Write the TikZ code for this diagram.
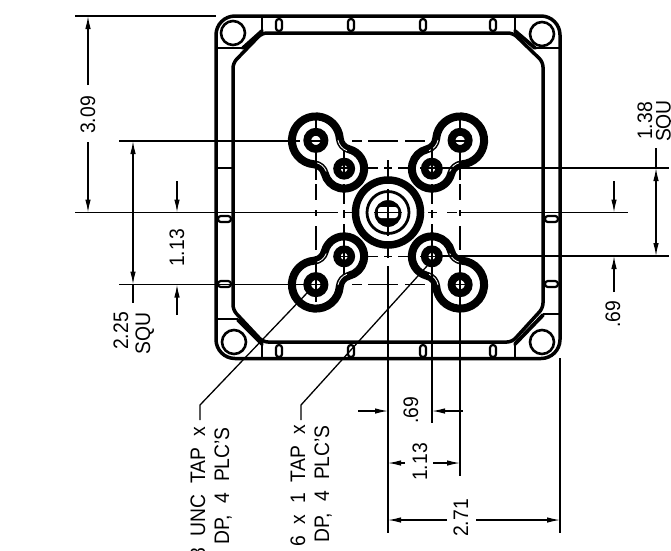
\documentclass[tikz,border=0pt]{standalone}
\usepackage{fontspec}
\setmainfont[FakeStretch=0.92]{Liberation Sans}
\usetikzlibrary{arrows.meta}
\newcommand{\gapw}{\hspace{11pt}}
\tikzset{
  body/.style={line width=3.5pt,line join=round},
  chamfer/.style={line width=3.8pt,line cap=round},
  thinbar/.style={line width=2.2pt},
  slotring/.style={line width=2.2pt,rounded corners=2.8pt},
  dimline/.style={line width=1.2pt},
  extline/.style={line width=1.3pt},
  centerl/.style={line width=1.4pt},
  arrowtip/.style={line width=1.2pt,-{Latex[length=13pt,width=5.5pt]}},
  both/.style={line width=1.2pt,{Latex[length=13pt,width=5.5pt]}-{Latex[length=13pt,width=5.5pt]}},
  dimtext/.style={rotate=90,inner sep=0pt,anchor=base,font=\fontsize{21}{22}\selectfont},
  notetext/.style={rotate=90,inner sep=0pt,anchor=base east,font=\fontsize{21}{22}\selectfont}
}
\begin{document}
\begin{tikzpicture}[x=1pt,y=1pt]
\useasboundingbox (0,0) rectangle (671,-550);
\clip (0,0) rectangle (671,-550);

% housing
\draw[body,rounded corners=19pt] (216,-16) rectangle (560,-358.5);
\draw[body,rounded corners=5pt] (262,-33) -- (513,-33) -- (543,-62) -- (543,-308) -- (512,-342) -- (263,-342) -- (233,-310) -- (233,-63) -- cycle;
\draw[chamfer] (262,-31) -- (243,-48);
\draw[chamfer] (515,-31) -- (535,-48);
\draw[chamfer] (262,-344) -- (238,-320);
\draw[chamfer] (515,-344) -- (543,-315);
\draw[thinbar] (216,-48) -- (243,-48);
\draw[thinbar] (535,-48) -- (560,-48);
\draw[thinbar] (216,-319) -- (238,-319);
\draw[thinbar] (543,-314) -- (560,-314);
\draw[thinbar] (216,-168) -- (233,-168);
\draw[thinbar] (262,-16) -- (262,-33);
\draw[thinbar] (515,-16) -- (515,-33);
\draw[thinbar] (262,-342) -- (262,-358);
\draw[thinbar] (515,-342) -- (515,-358);
\foreach \cx/\cy in {233/33,542/34,234/342,542/342}
  \draw[line width=2.6pt] (\cx,-\cy) circle (12pt);
\foreach \sx in {279,351,423,493} {
  \draw[slotring] (\sx-3,-19) rectangle (\sx+3,-31);
  \draw[slotring] (\sx-3,-345) rectangle (\sx+3,-357);
}
\foreach \sy in {219,284} {
  \draw[slotring] (218,-\sy+3) rectangle (231,-\sy-3);
  \draw[slotring] (545,-\sy+3) rectangle (558,-\sy-3);
}

% bolt pattern
\foreach \a in {45,135,225,315} {
\begin{scope}[shift={(388,-212.5)},rotate=\a]
  \draw[line width=8pt,line join=round]
    (102,0) ++(130.54:24pt) arc (130.54:-130.54:24pt)
    arc (49.46:121.25:12pt)
    arc (-58.75:-301.25:20pt)
    arc (238.75:310.54:12pt) -- cycle;
  \draw[white,line width=0.8pt] (78.6,-27.36) ++(55:14pt) arc (55:115:14pt);
  \draw[white,line width=0.8pt] (78.6,27.36) ++(245:14pt) arc (245:305:14pt);
  \draw[line width=7.8pt] (102,0) circle (8.6pt);
  \draw[line width=7.4pt] (62,0) circle (7.2pt);
\end{scope}
}
\draw[line width=7.5pt] (388,-212.5) circle (32.5pt);
\draw[line width=2.8pt] (388,-212.5) circle (21pt);
\fill (388,-213.5) circle (13.4pt);
\fill[white,rounded corners=3pt] (378,-207) rectangle (398,-218);

% centre lines
\draw[centerl] (119,-141) -- (300,-141);
\draw[centerl] (352,-141) -- (362,-141) (368,-141) -- (398,-141) (405,-141) -- (425,-141) (450,-141) -- (472,-141) (304,-141) -- (328,-141);
\draw[centerl] (119,-284.5) -- (328,-284.5);
\draw[centerl] (352,-284.5) -- (362,-284.5) (368,-284.5) -- (398,-284.5) (405,-284.5) -- (425,-284.5) (450,-284.5) -- (472,-284.5);
\draw[centerl] (75,-212.5) -- (338,-212.5);
\draw[centerl] (344,-212.5) -- (352,-212.5) (374,-212.5) -- (402,-212.5) (428,-212.5) -- (437,-212.5) (447,-212.5) -- (457,-212.5);
\draw[centerl] (460,-212.5) -- (628,-212.5);
\draw[centerl] (75,-16) -- (216,-16);
\draw[centerl] (334,-168) -- (354,-168) (366,-168) -- (378,-168) (384,-168) -- (392,-168) (398,-168) -- (410,-168) (420,-168) -- (440,-168);
\draw[centerl] (334,-256.5) -- (354,-256.5) (366,-256.5) -- (378,-256.5) (384,-256.5) -- (392,-256.5) (398,-256.5) -- (410,-256.5) (420,-256.5) -- (440,-256.5);
\draw[centerl] (440,-168) -- (669,-168);
\draw[centerl] (440,-256) -- (669,-256);
\draw[centerl] (316,-120) -- (316,-134) (316,-150) -- (316,-180) (316,-184) -- (316,-200) (316,-210) -- (316,-216) (316,-226) -- (316,-250) (316,-256) -- (316,-302);
\draw[centerl] (460,-120) -- (460,-134) (460,-150) -- (460,-180) (460,-184) -- (460,-200) (460,-210) -- (460,-216) (460,-226) -- (460,-250) (460,-256) -- (460,-476);
\draw[centerl] (344,-150) -- (344,-178) (344,-184) -- (344,-204) (344,-210) -- (344,-218) (344,-224) -- (344,-275);
\draw[centerl] (432,-147) -- (432,-178) (432,-184) -- (432,-204) (432,-210) -- (432,-218) (432,-224) -- (432,-423);
\draw[centerl] (388,-160) -- (388,-177);
\draw[centerl] (388,-189) -- (388,-236);
\draw[centerl] (388,-248) -- (388,-258) (388,-266) -- (388,-533);
\draw[centerl] (560,-358) -- (560,-533);

% dimensions, left
\coordinate (tl3) at (88,-85);
\coordinate (tl3t) at (88,-16);
\coordinate (tl3b) at (88,-212.5);
\coordinate (tl3c) at (88,-142);
\draw[arrowtip] (tl3) -- (tl3t);
\draw[arrowtip] (tl3c) -- (tl3b);
\node[dimtext] (d309) at (95,-115) {3.09};
\coordinate (sq1) at (133,-141);
\coordinate (sq2) at (133,-284.5);
\coordinate (sq3) at (133,-303);
\draw[both] (sq1) -- (sq2);
\draw[dimline] (sq2) -- (sq3);
\node[notetext] (d225) at (128,-312) {2.25};
\node[notetext] (s225) at (150,-312) {SQU};
\coordinate (a1) at (177,-181);
\coordinate (a2) at (177,-212.5);
\coordinate (a3) at (177,-315);
\coordinate (a4) at (177,-284.5);
\draw[arrowtip] (a1) -- (a2);
\draw[arrowtip] (a3) -- (a4);
\node[dimtext] (d113l) at (184,-248) {1.13};

% dimensions, right
\coordinate (r1) at (656,-148);
\coordinate (r2) at (656,-168);
\coordinate (r3) at (656,-256);
\draw[dimline] (r1) -- (r2);
\draw[both] (r2) -- (r3);
\node[dimtext] (d138) at (652,-121) {1.38};
\node[dimtext] (s138) at (670.5,-121) {SQU};
\coordinate (b1) at (614,-181);
\coordinate (b2) at (614,-212.5);
\coordinate (b3) at (614,-292);
\coordinate (b4) at (614,-256);
\draw[arrowtip] (b1) -- (b2);
\draw[arrowtip] (b3) -- (b4);
\node[dimtext] (d69r) at (620,-314) {.69};

% dimensions, bottom
\coordinate (c1) at (358,-411);
\coordinate (c2) at (388,-411);
\coordinate (c3) at (463,-411);
\coordinate (c4) at (432,-411);
\draw[arrowtip] (c1) -- (c2);
\draw[arrowtip] (c3) -- (c4);
\node[dimtext] (d69b) at (418,-410) {.69};
\coordinate (e1) at (405,-463);
\coordinate (e2) at (388,-463);
\coordinate (e3) at (433,-463);
\coordinate (e4) at (460,-463);
\draw[arrowtip] (e1) -- (e2);
\draw[arrowtip] (e3) -- (e4);
\node[dimtext] (d113b) at (427,-462) {1.13};
\coordinate (f1) at (447,-520);
\coordinate (f2) at (388,-520);
\coordinate (f3) at (476,-520);
\coordinate (f4) at (560,-520);
\draw[arrowtip] (f1) -- (f2);
\draw[arrowtip] (f3) -- (f4);
\node[dimtext] (d271) at (468,-518) {2.71};

% leaders and notes
\coordinate (l1a) at (307,-293);
\coordinate (l1b) at (200,-405);
\coordinate (l1c) at (200,-420);
\coordinate (l2a) at (427,-266);
\coordinate (l2b) at (301,-405);
\coordinate (l2c) at (301,-420);
\draw[extline] (l1a) -- (l1b) -- (l1c);
\draw[extline] (l2a) -- (l2b) -- (l2c);
\node[notetext] (n1a) at (205,-426.5) {8\gapw UNC\gapw TAP\gapw x};
\node[notetext] (n1b) at (229,-427) {DP,\gapw 4\gapw PLC'S};
\node[notetext] (n2a) at (305,-425) {6\gapw x\gapw 1\gapw TAP\gapw x};
\node[notetext] (n2b) at (329,-425) {DP,\gapw 4\gapw PLC'S};
\end{tikzpicture}
\end{document}
